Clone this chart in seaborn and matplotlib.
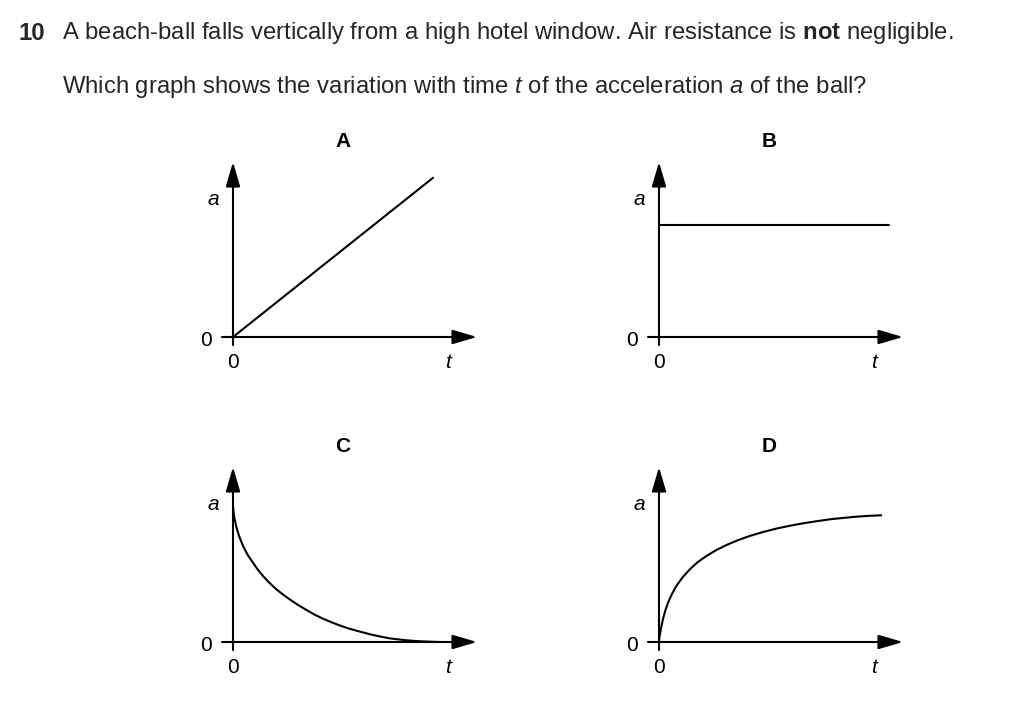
"""
Exam question 10: four sketch graphs of acceleration a against time t.
"""
import matplotlib
matplotlib.use("Agg")
import matplotlib.pyplot as plt
import seaborn as sns

sns.set_theme(style="white")
plt.rcParams.update({
    "font.family": ["Liberation Sans", "DejaVu Sans"],
    "mathtext.fontset": "custom",
    "mathtext.rm": "Liberation Sans",
    "mathtext.it": "Liberation Sans:italic",
    "mathtext.bf": "Liberation Sans:bold",
})

# Data (t and a both in arbitrary units, arrow tips at 10)
PANELS = ["A", "B", "C", "D"]
A_T = [0.0, 8.2]
A_A = [0.0, 9.1]
B_T = [0.0, 9.43]
B_A = [6.4, 6.4]
C_T = [0.0, 0.03, 0.07, 0.14, 0.25, 0.41, 0.6, 0.82, 1.02, 1.23, 1.5, 1.78, 2.05, 2.32,
       2.65, 3.01, 3.35, 3.69, 4.03, 4.37, 4.7, 5.05, 5.4, 5.74, 6.08, 6.42, 6.76, 7.10,
       7.45, 7.79, 8.13, 8.47]
C_A = [7.77, 7.35, 7.0, 6.55, 6.05, 5.49, 4.98, 4.53, 4.13, 3.77, 3.37, 3.01, 2.71, 2.44,
       2.13, 1.83, 1.56, 1.33, 1.13, 0.95, 0.79, 0.65, 0.52, 0.40, 0.30, 0.21, 0.15, 0.10,
       0.06, 0.035, 0.015, 0.0]
D_T = [0.0, 0.015, 0.05, 0.1, 0.16, 0.26, 0.37, 0.53, 0.71, 0.97, 1.26, 1.58, 1.94, 2.33,
       2.76, 3.22, 3.72, 4.25, 4.81, 5.35, 5.90, 6.45, 6.99, 7.55, 8.09, 8.6, 9.11]
D_A = [0.0, 0.27, 0.53, 0.9, 1.30, 1.8, 2.25, 2.74, 3.20, 3.7, 4.15, 4.56, 4.91, 5.24,
       5.54, 5.81, 6.06, 6.28, 6.48, 6.64, 6.78, 6.90, 7.01, 7.09, 7.16, 7.21, 7.24]
SERIES = {"A": (A_T, A_A), "B": (B_T, B_A), "C": (C_T, C_A), "D": (D_T, D_A)}

# origin of each small graph, in figure pixels
ORIGINS = {"A": (233, 337), "B": (659, 337), "C": (233, 642), "D": (659, 642)}

W, H = 1024, 706
PX_X, PX_Y = 24.4, 17.5   # pixels per data unit
FS = 17.2
FS_PANEL = 15


def draw_panel(fig, name):
    ox, oy = ORIGINS[name]
    left, right, below, above = 12, 246, 9, 177
    ax = fig.add_axes([(ox - left) / W, 1 - (oy + below) / H,
                       (left + right) / W, (below + above) / H])
    ax.set_xlim(-left / PX_X, right / PX_X)
    ax.set_ylim(-below / PX_Y, above / PX_Y)
    ax.axis("off")

    arrow = dict(arrowstyle="-|>,head_length=0.75,head_width=0.22",
                 mutation_scale=20, lw=1.5, color="black", shrinkA=0, shrinkB=0)
    ax.annotate("", xy=(10, 0), xytext=(-11 / PX_X, 0), arrowprops=arrow,
                annotation_clip=False)
    ax.annotate("", xy=(0, 10), xytext=(0, -8 / PX_Y), arrowprops=arrow,
                annotation_clip=False)

    t, a = SERIES[name]
    sns.lineplot(x=t, y=a, ax=ax, color="black", lw=1.5, sort=False)

    kw = dict(ha="center", va="center", fontsize=FS_PANEL, color="black", clip_on=False)
    ax.text(-0.8, 7.85, "a", style="italic", **kw)
    ax.text(-1.1, -0.2, "0", **kw)
    ax.text(0, -1.45, "0", **kw)
    ax.text(8.8, -1.45, "t", style="italic", **kw)
    ax.text(4.5, 11.15, name, fontweight="bold", **kw)


fig = plt.figure(figsize=(W / 100, H / 100), dpi=100)
fig.patch.set_facecolor("white")

fig.text(18 / W, 1 - 33 / H, "10", fontsize=FS, fontweight="bold", va="center")
fig.text(62 / W, 1 - 33 / H,
         r"A beach-ball falls vertically from a high hotel window. Air resistance is $\mathbf{not}$ negligible.",
         fontsize=FS, va="center")
fig.text(62 / W, 1 - 87 / H,
         r"Which graph shows the variation with time $\mathit{t}$ of the acceleration $\mathit{a}$ of the ball?",
         fontsize=FS, va="center")

for p in PANELS:
    draw_panel(fig, p)

fig.savefig("out.png", dpi=100, facecolor="white")
